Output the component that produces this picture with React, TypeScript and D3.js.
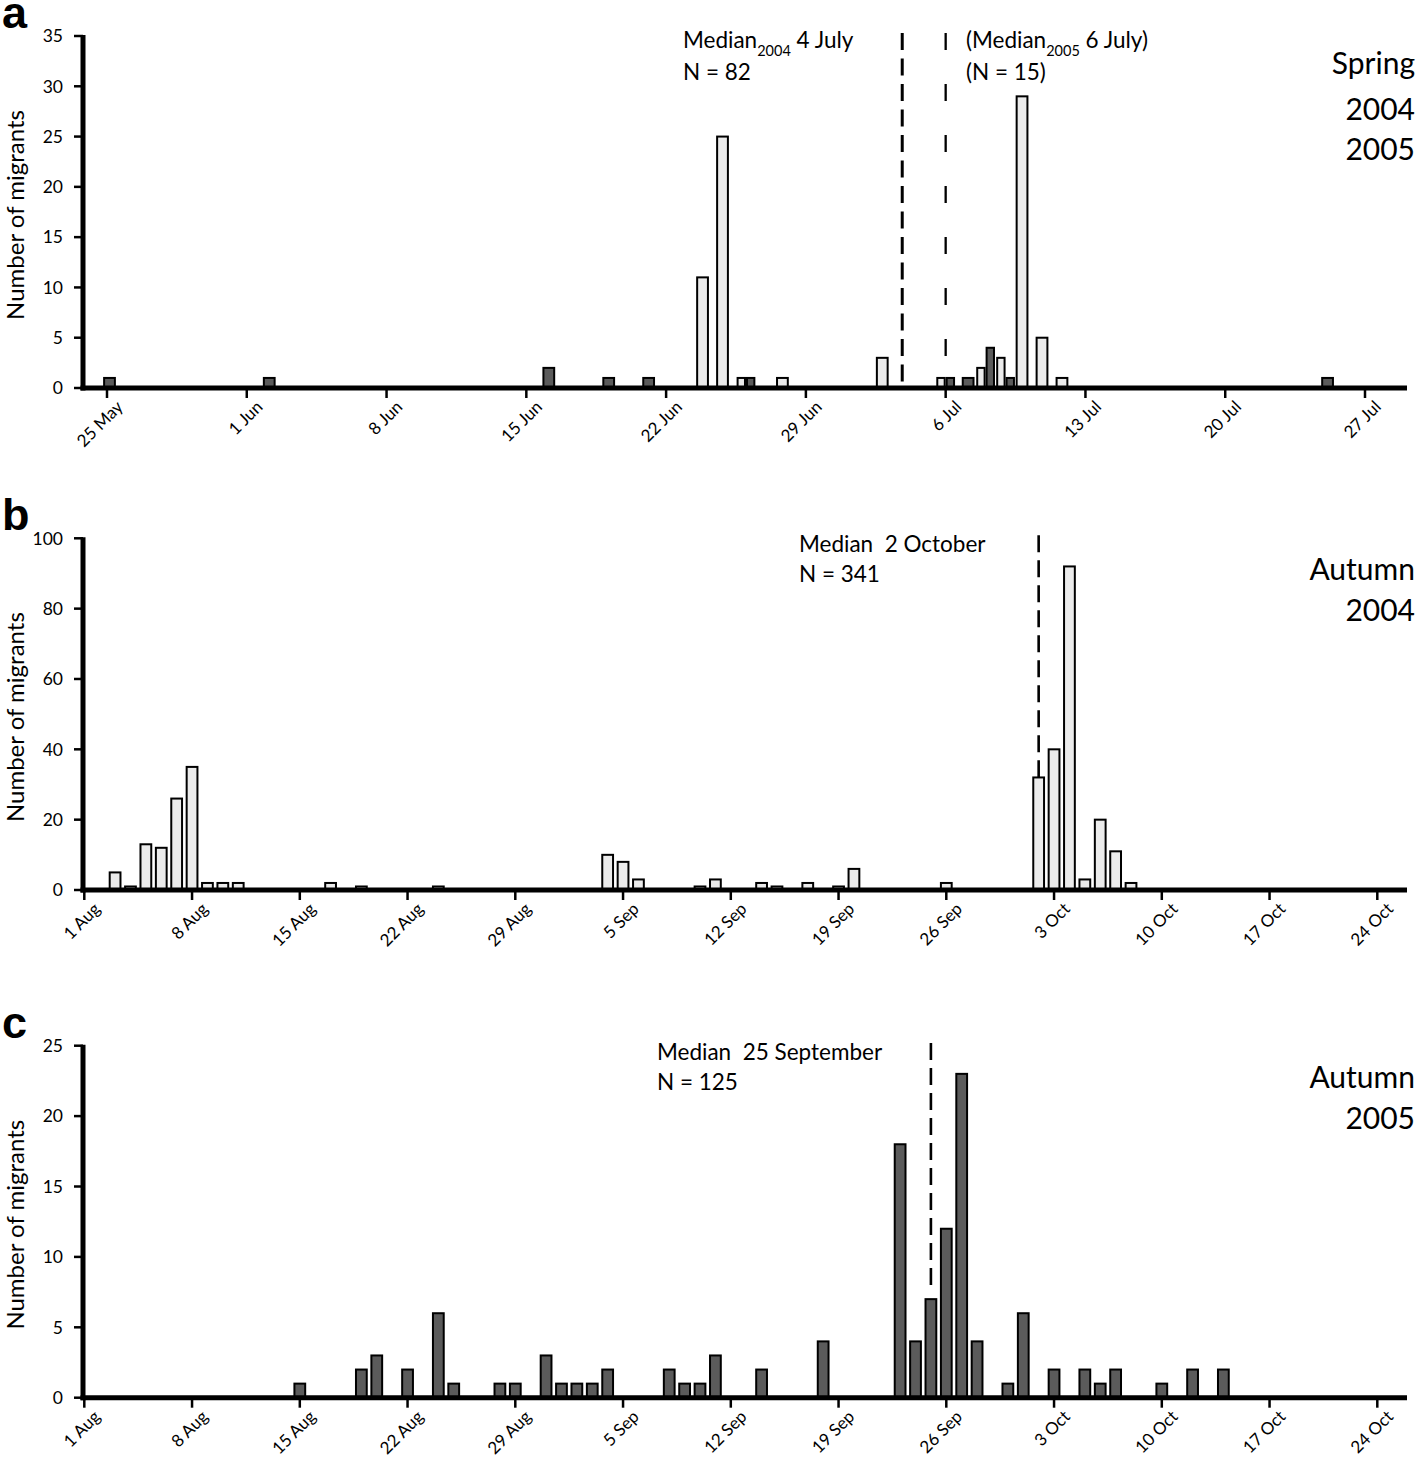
import React from "react";
import * as d3 from "d3";

const FONT = "Lato, 'Open Sans', sans-serif";
const LIGHT = "#ebebeb";
const DARK = "#5b5b5b";

// ---------- Panel a: Spring 2004 / 2005 ----------
const springTickDates = ["05-25", "06-01", "06-08", "06-15", "06-22", "06-29", "07-06", "07-13", "07-20", "07-27"];
const springTickLabels = ["25 May", "1 Jun", "8 Jun", "15 Jun", "22 Jun", "29 Jun", "6 Jul", "13 Jul", "20 Jul", "27 Jul"];
const spring2004Dates = ["06-24", "06-25", "06-26", "06-28", "07-03", "07-06", "07-08", "07-09", "07-10", "07-11", "07-12"];
const spring2004Counts = [11, 25, 1, 1, 3, 1, 2, 3, 29, 5, 1];
const spring2005Dates = ["05-25", "06-02", "06-16", "06-19", "06-21", "06-26", "07-06", "07-07", "07-08", "07-09", "07-25"];
const spring2005Counts = [1, 1, 2, 1, 1, 1, 1, 1, 4, 1, 1];
const springYTicks = [0, 5, 10, 15, 20, 25, 30, 35];

// ---------- Panels b, c: Autumn ----------
const autumnTickDates = ["08-01", "08-08", "08-15", "08-22", "08-29", "09-05", "09-12", "09-19", "09-26", "10-03", "10-10", "10-17", "10-24"];
const autumnTickLabels = ["1 Aug", "8 Aug", "15 Aug", "22 Aug", "29 Aug", "5 Sep", "12 Sep", "19 Sep", "26 Sep", "3 Oct", "10 Oct", "17 Oct", "24 Oct"];

const autumn2004Dates = ["08-03", "08-04", "08-05", "08-06", "08-07", "08-08", "08-09", "08-10", "08-11", "08-17", "08-19", "08-24",
  "09-04", "09-05", "09-06", "09-10", "09-11", "09-14", "09-15", "09-17", "09-19", "09-20", "09-26",
  "10-02", "10-03", "10-04", "10-05", "10-06", "10-07", "10-08"];
const autumn2004Counts = [5, 1, 13, 12, 26, 35, 2, 2, 2, 2, 1, 1,
  10, 8, 3, 1, 3, 2, 1, 2, 1, 6, 2,
  32, 40, 92, 3, 20, 11, 2];
const autumn2004YTicks = [0, 20, 40, 60, 80, 100];

const autumn2005Dates = ["08-15", "08-19", "08-20", "08-22", "08-24", "08-25", "08-28", "08-29", "08-31", "09-01", "09-02", "09-03", "09-04",
  "09-08", "09-09", "09-10", "09-11", "09-14", "09-18", "09-23", "09-24", "09-25", "09-26", "09-27", "09-28",
  "09-30", "10-01", "10-03", "10-05", "10-06", "10-07", "10-10", "10-12", "10-14"];
const autumn2005Counts = [1, 2, 3, 2, 6, 1, 1, 1, 3, 1, 1, 1, 2,
  2, 1, 1, 3, 2, 4, 18, 4, 7, 12, 23, 4,
  1, 6, 2, 2, 1, 2, 1, 2, 2];
const autumn2005YTicks = [0, 5, 10, 15, 20, 25];

const md = (s: string) => new Date(Date.UTC(2004, +s.slice(0, 2) - 1, +s.slice(3)));

const AXIS_LEFT = 83;
const AXIS_RIGHT = 1407;

function Axes({ x, y, yTicks, tickDates, tickLabels, y0 }: any) {
  const yTop = y(yTicks[yTicks.length - 1]);
  return (
    <g>
      <line x1={AXIS_LEFT} x2={AXIS_LEFT} y1={yTop - 1} y2={y0 + 2.5} stroke="#000" strokeWidth={5} />
      {yTicks.map((v: number) => (
        <g key={v}>
          <line x1={74} x2={AXIS_LEFT} y1={y(v)} y2={y(v)} stroke="#000" strokeWidth={2.5} />
          <text x={63} y={y(v)} dy="0.36em" textAnchor="end" fontSize={17.5} fontFamily={FONT}>{v}</text>
        </g>
      ))}
      <line x1={AXIS_LEFT - 2.5} x2={AXIS_RIGHT} y1={y0} y2={y0} stroke="#000" strokeWidth={5} />
      {tickDates.map((d: string, i: number) => {
        const tx = x(md(d));
        return (
          <g key={d}>
            <line x1={tx} x2={tx} y1={y0} y2={y0 + 10} stroke="#000" strokeWidth={2.5} />
            <text transform={`translate(${tx + 17},${y0 + 20}) rotate(-45)`} textAnchor="end" fontSize={17} fontFamily={FONT}>
              {tickLabels[i]}
            </text>
          </g>
        );
      })}
    </g>
  );
}

function YLabel({ cy }: { cy: number }) {
  return (
    <text transform={`translate(24,${cy}) rotate(-90)`} textAnchor="middle" fontSize={24} fontFamily={FONT}>
      Number of migrants
    </text>
  );
}

function PanelLetter({ letter, y }: { letter: string; y: number }) {
  return (
    <text x={2} y={y} fontSize={45} fontWeight="bold" fontFamily="'Liberation Sans', Arial, sans-serif">{letter}</text>
  );
}

function Dashed({ x, y1, y2, width, dash }: any) {
  return <line x1={x} x2={x} y1={y1} y2={y2} stroke="#000" strokeWidth={width} strokeDasharray={dash} />;
}

function PanelA() {
  const y0 = 388;
  const x = d3.scaleUtc().domain([md("05-25"), md("07-27")]).range([107, 1365]);
  const y = d3.scaleLinear().domain([0, 35]).range([y0, 36]);
  const day = x(md("05-26")) - x(md("05-25"));
  const singleW = day * 0.64;
  const halfW = day * 0.47;
  const off04 = -3.5;
  const off05 = 2.5;

  const m04 = new Map(spring2004Dates.map((d, i) => [d, spring2004Counts[i]]));
  const m05 = new Map(spring2005Dates.map((d, i) => [d, spring2005Counts[i]]));
  const all = Array.from(new Set([...spring2004Dates, ...spring2005Dates]));

  const bars: any[] = [];
  all.forEach((d) => {
    const c = x(md(d));
    const a = m04.get(d);
    const b = m05.get(d);
    if (a != null && b != null) {
      bars.push({ k: d + "a", x0: c - halfW, x1: c, v: a, fill: LIGHT });
      bars.push({ k: d + "b", x0: c, x1: c + halfW, v: b, fill: DARK });
    } else if (a != null) {
      bars.push({ k: d + "a", x0: c + off04 - singleW / 2, x1: c + off04 + singleW / 2, v: a, fill: LIGHT });
    } else if (b != null) {
      bars.push({ k: d + "b", x0: c + off05 - singleW / 2, x1: c + off05 + singleW / 2, v: b, fill: DARK });
    }
  });

  return (
    <g>
      {bars.map((r) => (
        <rect key={r.k} x={r.x0 + 1} y={y(r.v)} width={r.x1 - r.x0 - 2} height={y0 - y(r.v)} fill={r.fill} stroke="#000" strokeWidth={2} />
      ))}
      <Dashed x={x(md("07-04")) + off04} y1={y(35.3)} y2={y(0.5)} width={3} dash="17 8.5" />
      <Dashed x={x(md("07-06"))} y1={y(35.3)} y2={y(2.8)} width={2.3} dash="17 34" />
      <Axes x={x} y={y} y0={y0} yTicks={springYTicks} tickDates={springTickDates} tickLabels={springTickLabels} />
      <YLabel cy={215} />
      <PanelLetter letter="a" y={28} />
      <g fontFamily={FONT} fontSize={22.5}>
        <text x={683} y={48}>Median<tspan fontSize={14.5} dy={8}>2004</tspan><tspan dy={-8}> 4 July</tspan></text>
        <text x={683} y={80}>N = 82</text>
        <text x={966} y={48}>(Median<tspan fontSize={14.5} dy={8}>2005</tspan><tspan dy={-8}> 6 July)</tspan></text>
        <text x={966} y={80}>(N = 15)</text>
      </g>
      <g fontFamily={FONT} fontSize={30} textAnchor="end">
        <text x={1415} y={74}>Spring</text>
        <text x={1415} y={120}>2004</text>
        <text x={1415} y={160}>2005</text>
      </g>
    </g>
  );
}

function AutumnPanel({ y0, yTop, yMax, yTicks, dates, counts, fill, letter, median, medTop, medBottom, medX, medLabel, nText, yearText }: any) {
  const x = d3.scaleUtc().domain([md("08-01"), md("10-24")]).range([84.3, 1377.3]);
  const y = d3.scaleLinear().domain([0, yMax]).range([y0, yTop]);
  const day = x(md("08-02")) - x(md("08-01"));
  const w = day * 0.83;
  return (
    <g>
      {dates.map((d: string, i: number) => {
        const c = x(md(d));
        return (
          <rect key={d} x={c - w / 2 + 1} y={y(counts[i])} width={w - 2} height={y0 - y(counts[i])} fill={fill} stroke="#000" strokeWidth={2} />
        );
      })}
      <Dashed x={x(md(median))} y1={y(medTop)} y2={y(medBottom)} width={2.6} dash="17 8" />
      <Axes x={x} y={y} y0={y0} yTicks={yTicks} tickDates={autumnTickDates} tickLabels={autumnTickLabels} />
      <YLabel cy={(y0 + yTop) / 2 + 3} />
      <PanelLetter letter={letter} y={y0 - 360} />
      <g fontFamily={FONT} fontSize={22.5}>
        <text x={medX} y={yTop + 14}>{"Median\u00A0\u00A0" + medLabel}</text>
        <text x={medX} y={yTop + 44}>{nText}</text>
      </g>
      <g fontFamily={FONT} fontSize={30} textAnchor="end">
        <text x={1415} y={yTop + 42}>Autumn</text>
        <text x={1415} y={yTop + 83}>{yearText}</text>
      </g>
    </g>
  );
}

export default function App() {
  return (
    <svg width={1418} height={1464} style={{ position: "absolute", left: 0, top: 0, background: "#fff" }}>
      <rect width={1418} height={1464} fill="#fff" />
      <PanelA />
      <AutumnPanel y0={890} yTop={538.3} yMax={100} yTicks={autumn2004YTicks} dates={autumn2004Dates} counts={autumn2004Counts}
        fill={LIGHT} letter="b" median="10-02" medTop={100.9} medBottom={32.1}
        medX={799} medLabel="2 October" nText="N = 341" yearText="2004" />
      <AutumnPanel y0={1397.7} yTop={1045.7} yMax={25} yTicks={autumn2005YTicks} dates={autumn2005Dates} counts={autumn2005Counts}
        fill={DARK} letter="c" median="09-25" medTop={25.2} medBottom={7.65}
        medX={657} medLabel="25 September" nText="N = 125" yearText="2005" />
    </svg>
  );
}
